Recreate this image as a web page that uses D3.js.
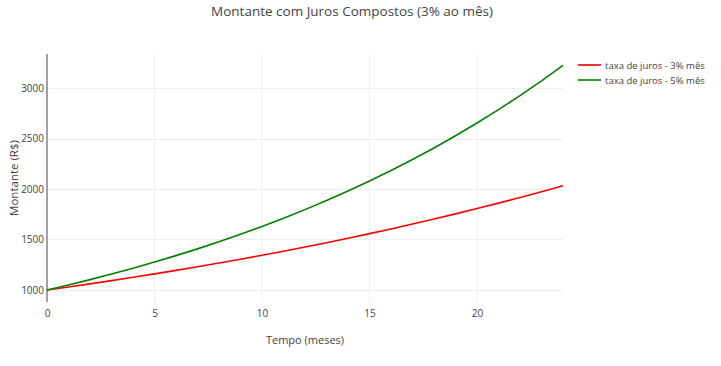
<!DOCTYPE html>
<html><head><meta charset="utf-8">
<script src="https://cdn.jsdelivr.net/npm/d3@7"></script>
<style>body{margin:0;background:#fff}svg{display:block;font-family:"Open Sans",sans-serif}</style>
</head><body><svg id="c" width="721" height="366"></svg>
<script>
const months = [0,1,2,3,4,5,6,7,8,9,10,11,12,13,14,15,16,17,18,19,20,21,22,23,24];
const taxa3 = [1000,1030,1060.9,1092.73,1125.51,1159.27,1194.05,1229.87,1266.77,1304.77,1343.92,1384.23,1425.76,1468.53,1512.59,1557.97,1604.71,1652.85,1702.43,1753.51,1806.11,1860.29,1916.10,1973.59,2032.79];
const taxa5 = [1000,1050,1102.5,1157.63,1215.51,1276.28,1340.10,1407.10,1477.46,1551.33,1628.89,1710.34,1795.86,1885.65,1979.93,2078.93,2182.87,2292.02,2406.62,2526.95,2653.30,2785.96,2925.26,3071.52,3225.10];
const seriesNames = ["taxa de juros - 3% mês","taxa de juros - 5% mês"];
const seriesColors = ["#ff0000","#008000"];
const xTicks = [0,5,10,15,20];
const yTicks = [1000,1500,2000,2500,3000];

const svg = d3.select("#c");
const L=47, R=563, T=54, B=302;
const x = d3.scaleLinear().domain([0,24]).range([L,R]);
const y = d3.scaleLinear().domain([881,3337]).range([B,T]);

// grid
svg.append("g").selectAll("line").data(xTicks.filter(d=>d>0)).join("line")
  .attr("x1",d=>x(d)).attr("x2",d=>x(d)).attr("y1",T).attr("y2",B)
  .attr("stroke","#eee").attr("stroke-width",1);
svg.append("g").selectAll("line").data(yTicks).join("line")
  .attr("x1",L).attr("x2",R).attr("y1",d=>Math.round(y(d))+0.5).attr("y2",d=>Math.round(y(d))+0.5)
  .attr("stroke","#eee").attr("stroke-width",1);

// axes
const xa = svg.append("g").attr("transform",`translate(0,${B})`)
  .call(d3.axisBottom(x).tickValues(xTicks).tickFormat(d3.format("d")).tickSize(0).tickPadding(8));
xa.select(".domain").remove();
xa.selectAll("text").attr("fill","#444").style("font-size","10px").style("font-family","Open Sans");
const ya = svg.append("g").attr("transform",`translate(${L},0)`)
  .call(d3.axisLeft(y).tickValues(yTicks).tickFormat(d3.format("d")).tickSize(0).tickPadding(3));
ya.select(".domain").remove();
ya.selectAll("text").attr("fill","#444").style("font-size","10px").style("font-family","Open Sans");
svg.append("line").attr("x1",L).attr("x2",L).attr("y1",T).attr("y2",B)
  .attr("stroke","#444").attr("stroke-width",1);

// lines
const line = d3.line().x((d,i)=>x(months[i])).y(d=>y(d));
[taxa3,taxa5].forEach((s,i)=>{
  svg.append("path").datum(s).attr("d",line).attr("fill","none")
    .attr("stroke",seriesColors[i]).attr("stroke-width",1.6).attr("stroke-linejoin","round");
});

// titles
svg.append("text").attr("x",352).attr("y",16).attr("text-anchor","middle")
  .attr("fill","#444").style("font-size","13.5px").text("Montante com Juros Compostos (3% ao mês)");
svg.append("text").attr("x",305).attr("y",344).attr("text-anchor","middle")
  .attr("fill","#444").style("font-size","11px").text("Tempo (meses)");
svg.append("text").attr("transform","translate(18,178) rotate(-90)").attr("text-anchor","middle")
  .attr("fill","#444").style("font-size","11.5px").text("Montante (R$)");

// legend
const lg = svg.append("g").selectAll("g").data(seriesNames).join("g")
  .attr("transform",(d,i)=>`translate(578,${65+i*15})`);
lg.append("line").attr("x1",0).attr("x2",23).attr("y1",0).attr("y2",0)
  .attr("stroke",(d,i)=>seriesColors[i]).attr("stroke-width",1.6);
lg.append("text").attr("x",27).attr("y",3.5).attr("fill","#444").style("font-size","9.5px").text(d=>d);
</script></body></html>
